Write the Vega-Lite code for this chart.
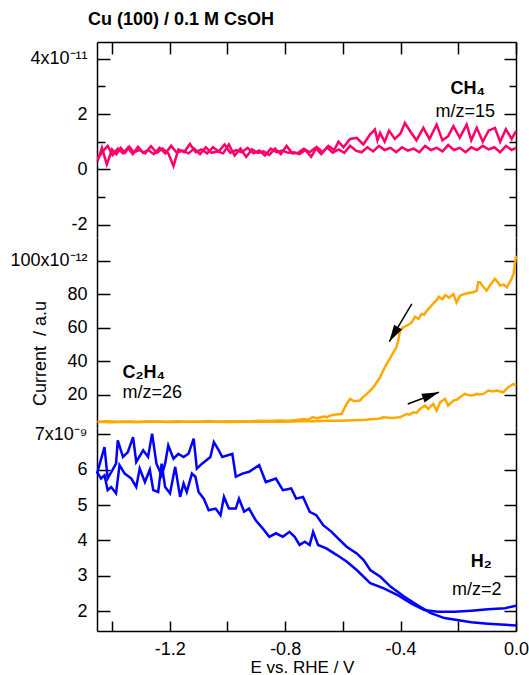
{
  "$schema": "https://vega.github.io/schema/vega-lite/v6.json",
  "padding": {"left": 9, "top": 11, "right": 0, "bottom": 0},
  "title": {"text": "Cu (100) / 0.1 M CsOH", "anchor": "start", "frame": "group", "fontSize": 18, "fontWeight": "bold", "font": "Liberation Sans", "color": "black", "offset": -2, "dx": -9, "baseline": "alphabetic"},
  "spacing": 0,
  "bounds": "flush",
  "datasets": {
    "ch4": [
      {"sweep":"a","E":-1.450,"I":0.30},{"sweep":"a","E":-1.435,"I":0.78},{"sweep":"a","E":-1.418,"I":0.18},{"sweep":"a","E":-1.400,"I":0.72},{"sweep":"a","E":-1.385,"I":0.55},{"sweep":"a","E":-1.370,"I":0.78},{"sweep":"a","E":-1.355,"I":0.60},{"sweep":"a","E":-1.340,"I":0.82},{"sweep":"a","E":-1.325,"I":0.62},{"sweep":"a","E":-1.305,"I":0.70},{"sweep":"a","E":-1.285,"I":0.58},{"sweep":"a","E":-1.265,"I":0.84},{"sweep":"a","E":-1.245,"I":0.60},{"sweep":"a","E":-1.225,"I":0.75},{"sweep":"a","E":-1.205,"I":0.58},{"sweep":"a","E":-1.187,"I":0.12},{"sweep":"a","E":-1.170,"I":0.72},{"sweep":"a","E":-1.150,"I":0.62},{"sweep":"a","E":-1.130,"I":0.92},{"sweep":"a","E":-1.110,"I":0.62},{"sweep":"a","E":-1.090,"I":0.72},{"sweep":"a","E":-1.070,"I":0.58},{"sweep":"a","E":-1.050,"I":0.80},{"sweep":"a","E":-1.030,"I":0.65},{"sweep":"a","E":-1.010,"I":0.90},{"sweep":"a","E":-0.990,"I":0.60},{"sweep":"a","E":-0.970,"I":0.70},{"sweep":"a","E":-0.950,"I":0.62},{"sweep":"a","E":-0.930,"I":0.78},{"sweep":"a","E":-0.910,"I":0.58},{"sweep":"a","E":-0.890,"I":0.68},{"sweep":"a","E":-0.870,"I":0.50},{"sweep":"a","E":-0.850,"I":0.75},{"sweep":"a","E":-0.830,"I":0.62},{"sweep":"a","E":-0.810,"I":0.68},{"sweep":"a","E":-0.790,"I":0.60},{"sweep":"a","E":-0.770,"I":0.62},{"sweep":"a","E":-0.750,"I":0.55},{"sweep":"a","E":-0.730,"I":0.70},{"sweep":"a","E":-0.710,"I":0.45},{"sweep":"a","E":-0.690,"I":0.80},{"sweep":"a","E":-0.670,"I":0.62},{"sweep":"a","E":-0.650,"I":0.85},{"sweep":"a","E":-0.630,"I":0.70},{"sweep":"a","E":-0.615,"I":1.00},{"sweep":"a","E":-0.598,"I":0.80},{"sweep":"a","E":-0.575,"I":1.10},{"sweep":"a","E":-0.552,"I":1.14},{"sweep":"a","E":-0.529,"I":0.90},{"sweep":"a","E":-0.506,"I":1.26},{"sweep":"a","E":-0.489,"I":1.44},{"sweep":"a","E":-0.480,"I":1.05},{"sweep":"a","E":-0.471,"I":1.32},{"sweep":"a","E":-0.455,"I":1.00},{"sweep":"a","E":-0.440,"I":1.40},{"sweep":"a","E":-0.420,"I":1.10},{"sweep":"a","E":-0.400,"I":1.30},{"sweep":"a","E":-0.385,"I":1.68},{"sweep":"a","E":-0.365,"I":1.35},{"sweep":"a","E":-0.345,"I":1.05},{"sweep":"a","E":-0.321,"I":1.50},{"sweep":"a","E":-0.300,"I":1.10},{"sweep":"a","E":-0.275,"I":1.62},{"sweep":"a","E":-0.255,"I":1.05},{"sweep":"a","E":-0.235,"I":1.20},{"sweep":"a","E":-0.217,"I":1.56},{"sweep":"a","E":-0.195,"I":1.15},{"sweep":"a","E":-0.171,"I":1.62},{"sweep":"a","E":-0.155,"I":1.05},{"sweep":"a","E":-0.136,"I":1.50},{"sweep":"a","E":-0.115,"I":1.00},{"sweep":"a","E":-0.095,"I":1.40},{"sweep":"a","E":-0.073,"I":1.50},{"sweep":"a","E":-0.055,"I":1.00},{"sweep":"a","E":-0.035,"I":1.45},{"sweep":"a","E":-0.015,"I":1.10},{"sweep":"a","E":0.000,"I":1.38},
      {"sweep":"b","E":-1.450,"I":0.40},{"sweep":"b","E":-1.432,"I":0.65},{"sweep":"b","E":-1.415,"I":0.85},{"sweep":"b","E":-1.398,"I":0.52},{"sweep":"b","E":-1.380,"I":0.75},{"sweep":"b","E":-1.362,"I":0.58},{"sweep":"b","E":-1.345,"I":0.78},{"sweep":"b","E":-1.328,"I":0.55},{"sweep":"b","E":-1.310,"I":0.82},{"sweep":"b","E":-1.292,"I":0.60},{"sweep":"b","E":-1.275,"I":0.70},{"sweep":"b","E":-1.255,"I":0.55},{"sweep":"b","E":-1.235,"I":0.78},{"sweep":"b","E":-1.215,"I":0.58},{"sweep":"b","E":-1.195,"I":0.85},{"sweep":"b","E":-1.175,"I":0.60},{"sweep":"b","E":-1.155,"I":0.68},{"sweep":"b","E":-1.135,"I":0.58},{"sweep":"b","E":-1.115,"I":0.75},{"sweep":"b","E":-1.095,"I":0.55},{"sweep":"b","E":-1.075,"I":0.80},{"sweep":"b","E":-1.055,"I":0.60},{"sweep":"b","E":-1.035,"I":0.65},{"sweep":"b","E":-1.015,"I":0.58},{"sweep":"b","E":-0.995,"I":0.90},{"sweep":"b","E":-0.975,"I":0.50},{"sweep":"b","E":-0.955,"I":0.75},{"sweep":"b","E":-0.935,"I":0.45},{"sweep":"b","E":-0.915,"I":0.72},{"sweep":"b","E":-0.895,"I":0.60},{"sweep":"b","E":-0.875,"I":0.65},{"sweep":"b","E":-0.855,"I":0.52},{"sweep":"b","E":-0.835,"I":0.75},{"sweep":"b","E":-0.815,"I":0.55},{"sweep":"b","E":-0.795,"I":0.85},{"sweep":"b","E":-0.775,"I":0.58},{"sweep":"b","E":-0.755,"I":0.60},{"sweep":"b","E":-0.735,"I":0.75},{"sweep":"b","E":-0.715,"I":0.62},{"sweep":"b","E":-0.695,"I":0.78},{"sweep":"b","E":-0.675,"I":0.55},{"sweep":"b","E":-0.655,"I":0.80},{"sweep":"b","E":-0.635,"I":0.60},{"sweep":"b","E":-0.615,"I":0.72},{"sweep":"b","E":-0.595,"I":0.60},{"sweep":"b","E":-0.575,"I":0.85},{"sweep":"b","E":-0.555,"I":0.68},{"sweep":"b","E":-0.535,"I":0.62},{"sweep":"b","E":-0.515,"I":0.80},{"sweep":"b","E":-0.495,"I":0.65},{"sweep":"b","E":-0.475,"I":0.85},{"sweep":"b","E":-0.455,"I":0.70},{"sweep":"b","E":-0.435,"I":0.78},{"sweep":"b","E":-0.415,"I":0.62},{"sweep":"b","E":-0.395,"I":0.80},{"sweep":"b","E":-0.375,"I":0.68},{"sweep":"b","E":-0.355,"I":0.75},{"sweep":"b","E":-0.335,"I":0.62},{"sweep":"b","E":-0.315,"I":0.85},{"sweep":"b","E":-0.295,"I":0.70},{"sweep":"b","E":-0.275,"I":0.78},{"sweep":"b","E":-0.255,"I":0.65},{"sweep":"b","E":-0.235,"I":0.88},{"sweep":"b","E":-0.215,"I":0.70},{"sweep":"b","E":-0.195,"I":0.78},{"sweep":"b","E":-0.175,"I":0.62},{"sweep":"b","E":-0.155,"I":0.80},{"sweep":"b","E":-0.135,"I":0.70},{"sweep":"b","E":-0.115,"I":0.85},{"sweep":"b","E":-0.095,"I":0.72},{"sweep":"b","E":-0.075,"I":0.80},{"sweep":"b","E":-0.055,"I":0.62},{"sweep":"b","E":-0.035,"I":0.85},{"sweep":"b","E":-0.015,"I":0.70},{"sweep":"b","E":0.000,"I":0.78}
    ],
    "c2h4": [
      {"sweep":"cathodic","E":-1.450,"I":3.6},{"sweep":"cathodic","E":-1.415,"I":4.0},{"sweep":"cathodic","E":-1.380,"I":3.7},{"sweep":"cathodic","E":-1.345,"I":3.9},{"sweep":"cathodic","E":-1.310,"I":3.6},{"sweep":"cathodic","E":-1.275,"I":4.0},{"sweep":"cathodic","E":-1.240,"I":3.8},{"sweep":"cathodic","E":-1.205,"I":3.7},{"sweep":"cathodic","E":-1.170,"I":4.1},{"sweep":"cathodic","E":-1.135,"I":3.8},{"sweep":"cathodic","E":-1.100,"I":3.9},{"sweep":"cathodic","E":-1.065,"I":4.2},{"sweep":"cathodic","E":-1.030,"I":3.8},{"sweep":"cathodic","E":-0.995,"I":4.0},{"sweep":"cathodic","E":-0.960,"I":4.1},{"sweep":"cathodic","E":-0.925,"I":4.0},{"sweep":"cathodic","E":-0.890,"I":4.3},{"sweep":"cathodic","E":-0.855,"I":4.2},{"sweep":"cathodic","E":-0.820,"I":4.5},{"sweep":"cathodic","E":-0.790,"I":4.4},{"sweep":"cathodic","E":-0.760,"I":4.8},{"sweep":"cathodic","E":-0.735,"I":5.4},{"sweep":"cathodic","E":-0.720,"I":5.0},{"sweep":"cathodic","E":-0.705,"I":6.5},{"sweep":"cathodic","E":-0.690,"I":5.8},{"sweep":"cathodic","E":-0.680,"I":6.3},{"sweep":"cathodic","E":-0.665,"I":6.8},{"sweep":"cathodic","E":-0.655,"I":6.4},{"sweep":"cathodic","E":-0.645,"I":7.4},{"sweep":"cathodic","E":-0.630,"I":7.9},{"sweep":"cathodic","E":-0.615,"I":8.2},{"sweep":"cathodic","E":-0.604,"I":8.4},{"sweep":"cathodic","E":-0.593,"I":12.4},{"sweep":"cathodic","E":-0.583,"I":15.5},{"sweep":"cathodic","E":-0.575,"I":17.4},{"sweep":"cathodic","E":-0.560,"I":16.0},{"sweep":"cathodic","E":-0.541,"I":16.4},{"sweep":"cathodic","E":-0.530,"I":18.5},{"sweep":"cathodic","E":-0.517,"I":20.4},{"sweep":"cathodic","E":-0.505,"I":22.5},{"sweep":"cathodic","E":-0.494,"I":24.4},{"sweep":"cathodic","E":-0.482,"I":27.5},{"sweep":"cathodic","E":-0.471,"I":30.3},{"sweep":"cathodic","E":-0.460,"I":34.5},{"sweep":"cathodic","E":-0.448,"I":38.4},{"sweep":"cathodic","E":-0.437,"I":41.5},{"sweep":"cathodic","E":-0.425,"I":45.3},{"sweep":"cathodic","E":-0.415,"I":48.0},{"sweep":"cathodic","E":-0.408,"I":52.3},{"sweep":"cathodic","E":-0.402,"I":58.3},{"sweep":"cathodic","E":-0.390,"I":60.3},{"sweep":"cathodic","E":-0.375,"I":61.5},{"sweep":"cathodic","E":-0.361,"I":63.3},{"sweep":"cathodic","E":-0.350,"I":66.5},{"sweep":"cathodic","E":-0.338,"I":65.3},{"sweep":"cathodic","E":-0.327,"I":68.3},{"sweep":"cathodic","E":-0.318,"I":67.8},{"sweep":"cathodic","E":-0.309,"I":70.3},{"sweep":"cathodic","E":-0.298,"I":72.2},{"sweep":"cathodic","E":-0.287,"I":74.5},{"sweep":"cathodic","E":-0.275,"I":76.5},{"sweep":"cathodic","E":-0.268,"I":78.5},{"sweep":"cathodic","E":-0.255,"I":77.0},{"sweep":"cathodic","E":-0.245,"I":79.5},{"sweep":"cathodic","E":-0.232,"I":78.0},{"sweep":"cathodic","E":-0.217,"I":80.2},{"sweep":"cathodic","E":-0.206,"I":75.2},{"sweep":"cathodic","E":-0.194,"I":79.2},{"sweep":"cathodic","E":-0.185,"I":79.8},{"sweep":"cathodic","E":-0.177,"I":80.2},{"sweep":"cathodic","E":-0.165,"I":80.8},{"sweep":"cathodic","E":-0.148,"I":81.2},{"sweep":"cathodic","E":-0.136,"I":82.2},{"sweep":"cathodic","E":-0.131,"I":87.2},{"sweep":"cathodic","E":-0.125,"I":87.2},{"sweep":"cathodic","E":-0.113,"I":84.5},{"sweep":"cathodic","E":-0.102,"I":82.2},{"sweep":"cathodic","E":-0.090,"I":85.5},{"sweep":"cathodic","E":-0.073,"I":89.2},{"sweep":"cathodic","E":-0.064,"I":87.5},{"sweep":"cathodic","E":-0.055,"I":85.2},{"sweep":"cathodic","E":-0.043,"I":85.8},{"sweep":"cathodic","E":-0.032,"I":84.2},{"sweep":"cathodic","E":-0.015,"I":89.4},{"sweep":"cathodic","E":-0.008,"I":92.5},{"sweep":"cathodic","E":0.000,"I":103.2},
      {"sweep":"anodic","E":-1.450,"I":3.8},{"sweep":"anodic","E":-1.400,"I":3.5},{"sweep":"anodic","E":-1.350,"I":3.8},{"sweep":"anodic","E":-1.300,"I":3.6},{"sweep":"anodic","E":-1.250,"I":3.9},{"sweep":"anodic","E":-1.200,"I":3.6},{"sweep":"anodic","E":-1.150,"I":3.8},{"sweep":"anodic","E":-1.100,"I":3.7},{"sweep":"anodic","E":-1.050,"I":3.9},{"sweep":"anodic","E":-1.000,"I":3.6},{"sweep":"anodic","E":-0.950,"I":3.8},{"sweep":"anodic","E":-0.900,"I":3.7},{"sweep":"anodic","E":-0.850,"I":3.9},{"sweep":"anodic","E":-0.800,"I":3.8},{"sweep":"anodic","E":-0.750,"I":4.0},{"sweep":"anodic","E":-0.700,"I":4.1},{"sweep":"anodic","E":-0.650,"I":4.3},{"sweep":"anodic","E":-0.610,"I":4.4},{"sweep":"anodic","E":-0.560,"I":4.7},{"sweep":"anodic","E":-0.520,"I":5.0},{"sweep":"anodic","E":-0.494,"I":5.4},{"sweep":"anodic","E":-0.475,"I":5.6},{"sweep":"anodic","E":-0.460,"I":6.4},{"sweep":"anodic","E":-0.430,"I":6.0},{"sweep":"anodic","E":-0.402,"I":6.4},{"sweep":"anodic","E":-0.379,"I":8.4},{"sweep":"anodic","E":-0.368,"I":8.0},{"sweep":"anodic","E":-0.356,"I":9.4},{"sweep":"anodic","E":-0.345,"I":9.0},{"sweep":"anodic","E":-0.333,"I":11.4},{"sweep":"anodic","E":-0.315,"I":13.4},{"sweep":"anodic","E":-0.304,"I":11.4},{"sweep":"anodic","E":-0.287,"I":14.4},{"sweep":"anodic","E":-0.275,"I":10.4},{"sweep":"anodic","E":-0.263,"I":15.4},{"sweep":"anodic","E":-0.246,"I":17.4},{"sweep":"anodic","E":-0.235,"I":13.4},{"sweep":"anodic","E":-0.217,"I":16.4},{"sweep":"anodic","E":-0.205,"I":17.0},{"sweep":"anodic","E":-0.194,"I":18.4},{"sweep":"anodic","E":-0.177,"I":20.4},{"sweep":"anodic","E":-0.159,"I":19.4},{"sweep":"anodic","E":-0.145,"I":19.8},{"sweep":"anodic","E":-0.136,"I":20.4},{"sweep":"anodic","E":-0.125,"I":20.0},{"sweep":"anodic","E":-0.113,"I":20.4},{"sweep":"anodic","E":-0.096,"I":22.4},{"sweep":"anodic","E":-0.080,"I":21.8},{"sweep":"anodic","E":-0.067,"I":22.4},{"sweep":"anodic","E":-0.044,"I":21.4},{"sweep":"anodic","E":-0.027,"I":24.4},{"sweep":"anodic","E":-0.009,"I":26.4},{"sweep":"anodic","E":0.000,"I":25.4}
    ],
    "h2": [
      {"sweep":"U","E":-1.452,"I":5.89},{"sweep":"U","E":-1.426,"I":6.64},{"sweep":"U","E":-1.415,"I":5.75},{"sweep":"U","E":-1.386,"I":6.17},{"sweep":"U","E":-1.380,"I":6.83},{"sweep":"U","E":-1.362,"I":6.36},{"sweep":"U","E":-1.345,"I":6.50},{"sweep":"U","E":-1.327,"I":6.92},{"sweep":"U","E":-1.316,"I":6.22},{"sweep":"U","E":-1.292,"I":6.55},{"sweep":"U","E":-1.275,"I":6.36},{"sweep":"U","E":-1.261,"I":7.02},{"sweep":"U","E":-1.246,"I":6.17},{"sweep":"U","E":-1.228,"I":5.84},{"sweep":"U","E":-1.216,"I":6.17},{"sweep":"U","E":-1.205,"I":6.69},{"sweep":"U","E":-1.187,"I":6.31},{"sweep":"U","E":-1.170,"I":6.45},{"sweep":"U","E":-1.152,"I":6.36},{"sweep":"U","E":-1.135,"I":6.45},{"sweep":"U","E":-1.117,"I":6.88},{"sweep":"U","E":-1.106,"I":6.03},{"sweep":"U","E":-1.088,"I":6.17},{"sweep":"U","E":-1.059,"I":6.36},{"sweep":"U","E":-1.047,"I":6.78},{"sweep":"U","E":-1.030,"I":6.55},{"sweep":"U","E":-1.018,"I":6.36},{"sweep":"U","E":-0.983,"I":6.45},{"sweep":"U","E":-0.971,"I":5.80},{"sweep":"U","E":-0.948,"I":5.89},{"sweep":"U","E":-0.925,"I":5.94},{"sweep":"U","E":-0.890,"I":6.13},{"sweep":"U","E":-0.867,"I":5.65},{"sweep":"U","E":-0.832,"I":5.75},{"sweep":"U","E":-0.808,"I":5.42},{"sweep":"U","E":-0.779,"I":5.47},{"sweep":"U","E":-0.762,"I":5.18},{"sweep":"U","E":-0.738,"I":5.23},{"sweep":"U","E":-0.715,"I":4.81},{"sweep":"U","E":-0.692,"I":4.71},{"sweep":"U","E":-0.668,"I":4.43},{"sweep":"U","E":-0.639,"I":4.24},{"sweep":"U","E":-0.622,"I":4.10},{"sweep":"U","E":-0.587,"I":3.82},{"sweep":"U","E":-0.552,"I":3.63},{"sweep":"U","E":-0.528,"I":3.44},{"sweep":"U","E":-0.505,"I":3.16},{"sweep":"U","E":-0.470,"I":2.97},{"sweep":"U","E":-0.435,"I":2.69},{"sweep":"U","E":-0.388,"I":2.41},{"sweep":"U","E":-0.342,"I":2.17},{"sweep":"U","E":-0.295,"I":1.94},{"sweep":"U","E":-0.248,"I":1.80},{"sweep":"U","E":-0.155,"I":1.68},{"sweep":"U","E":-0.097,"I":1.64},{"sweep":"U","E":-0.038,"I":1.61},{"sweep":"U","E":0.000,"I":1.59},
      {"sweep":"L","E":-1.452,"I":5.94},{"sweep":"L","E":-1.438,"I":5.75},{"sweep":"L","E":-1.426,"I":5.84},{"sweep":"L","E":-1.415,"I":5.42},{"sweep":"L","E":-1.403,"I":5.51},{"sweep":"L","E":-1.386,"I":5.33},{"sweep":"L","E":-1.374,"I":6.13},{"sweep":"L","E":-1.356,"I":5.89},{"sweep":"L","E":-1.333,"I":5.75},{"sweep":"L","E":-1.316,"I":5.51},{"sweep":"L","E":-1.304,"I":6.03},{"sweep":"L","E":-1.286,"I":5.65},{"sweep":"L","E":-1.269,"I":6.00},{"sweep":"L","E":-1.257,"I":5.42},{"sweep":"L","E":-1.240,"I":5.37},{"sweep":"L","E":-1.228,"I":6.17},{"sweep":"L","E":-1.216,"I":5.51},{"sweep":"L","E":-1.199,"I":5.33},{"sweep":"L","E":-1.181,"I":6.08},{"sweep":"L","E":-1.164,"I":5.23},{"sweep":"L","E":-1.152,"I":5.61},{"sweep":"L","E":-1.141,"I":5.37},{"sweep":"L","E":-1.123,"I":5.89},{"sweep":"L","E":-1.111,"I":5.80},{"sweep":"L","E":-1.100,"I":5.37},{"sweep":"L","E":-1.082,"I":5.18},{"sweep":"L","E":-1.065,"I":4.85},{"sweep":"L","E":-1.041,"I":4.90},{"sweep":"L","E":-1.024,"I":4.71},{"sweep":"L","E":-1.012,"I":5.23},{"sweep":"L","E":-0.995,"I":4.90},{"sweep":"L","E":-0.971,"I":4.90},{"sweep":"L","E":-0.960,"I":5.18},{"sweep":"L","E":-0.942,"I":4.81},{"sweep":"L","E":-0.925,"I":4.90},{"sweep":"L","E":-0.902,"I":4.57},{"sweep":"L","E":-0.878,"I":4.34},{"sweep":"L","E":-0.855,"I":4.10},{"sweep":"L","E":-0.832,"I":4.20},{"sweep":"L","E":-0.808,"I":4.10},{"sweep":"L","E":-0.785,"I":4.24},{"sweep":"L","E":-0.767,"I":4.10},{"sweep":"L","E":-0.750,"I":3.87},{"sweep":"L","E":-0.732,"I":3.96},{"sweep":"L","E":-0.715,"I":3.87},{"sweep":"L","E":-0.703,"I":4.24},{"sweep":"L","E":-0.686,"I":3.87},{"sweep":"L","E":-0.657,"I":3.77},{"sweep":"L","E":-0.622,"I":3.59},{"sweep":"L","E":-0.587,"I":3.40},{"sweep":"L","E":-0.552,"I":3.16},{"sweep":"L","E":-0.505,"I":2.79},{"sweep":"L","E":-0.458,"I":2.64},{"sweep":"L","E":-0.412,"I":2.46},{"sweep":"L","E":-0.365,"I":2.22},{"sweep":"L","E":-0.318,"I":2.03},{"sweep":"L","E":-0.272,"I":1.98},{"sweep":"L","E":-0.213,"I":1.98},{"sweep":"L","E":-0.155,"I":2.01},{"sweep":"L","E":-0.097,"I":2.05},{"sweep":"L","E":-0.038,"I":2.08},{"sweep":"L","E":0.000,"I":2.15}
    ],
    "labels": [
      {"id":"CH4","text":"CH₄","E":-0.107,"I":2.89},
      {"id":"CH4mz","text":"m/z=15","E":-0.073,"I":2.07},
      {"id":"C2H4","text":"C₂H₄","E":-1.364,"I":33.2},
      {"id":"C2H4mz","text":"m/z=26","E":-1.364,"I":21.2},
      {"id":"H2","text":"H₂","E":-0.084,"I":3.39},
      {"id":"H2mz","text":"m/z=2","E":-0.050,"I":2.59}
    ],
    "arrows": [
      {"arrow":1,"E":-0.361,"I":74.3,"E2":-0.439,"I2":51.7},
      {"arrow":2,"E":-0.375,"I":14.4,"E2":-0.267,"I2":21.4}
    ]
  },
  "vconcat": [
    {
      "width": 419, "height": 195,
      "layer": [
        {
          "data": {"name": "ch4"},
          "mark": {"type": "line", "color": "#FF0066", "strokeWidth": 2.5},
          "encoding": {
            "x": {"field": "E", "type": "quantitative", "scale": {"domain": [-1.452, 0], "nice": false, "zero": false},
                  "axis": {"orient": "top", "values": [-1.4, -1.2, -1.0, -0.8, -0.6, -0.4, -0.2, 0], "labels": false, "tickSize": -12, "title": null, "domain": true}},
            "y": {"field": "I", "type": "quantitative", "scale": {"domain": [-2.44, 4.6], "nice": false, "zero": false},
                  "axis": {"orient": "left", "values": [-2, 0, 2, 4], "tickSize": -13, "labelPadding": 23, "title": null,
                           "labelExpr": "datum.value == 4 ? '4x10⁻¹¹' : (datum.value < 0 ? '-' + abs(datum.value) : '' + datum.value)"}},
            "detail": {"field": "sweep", "type": "nominal"}
          }
        },
        {
          "data": {"name": "labels"},
          "transform": [{"filter": "datum.id == 'CH4'"}],
          "mark": {"type": "text", "align": "right", "baseline": "middle", "fontWeight": "bold", "fontSize": 18},
          "encoding": {
            "x": {"field": "E", "type": "quantitative", "scale": {"domain": [-1.452, 0], "nice": false, "zero": false}, "axis": null},
            "y": {"field": "I", "type": "quantitative", "scale": {"domain": [-2.44, 4.6], "nice": false, "zero": false},
                  "axis": {"orient": "right", "values": [-2, 0, 2, 4], "labels": false, "tickSize": -12, "title": null, "domain": true}},
            "text": {"field": "text"}
          }
        },
        {
          "data": {"name": "labels"},
          "transform": [{"filter": "datum.id == 'CH4mz'"}],
          "mark": {"type": "text", "align": "right", "baseline": "middle", "fontSize": 18},
          "encoding": {
            "x": {"field": "E", "type": "quantitative", "scale": {"domain": [-1.452, 0], "nice": false, "zero": false}, "axis": null},
            "y": {"field": "I", "type": "quantitative", "scale": {"domain": [-2.44, 4.6], "nice": false, "zero": false},
                  "axis": {"orient": "left", "values": [-1, 1, 3], "labels": false, "tickSize": -8, "title": null, "domain": false}},
            "text": {"field": "text"}
          }
        },
        {
          "data": {"name": "labels"},
          "transform": [{"filter": "datum.id == 'CH4mz'"}],
          "mark": {"type": "point", "opacity": 0},
          "encoding": {
            "x": {"field": "E", "type": "quantitative", "scale": {"domain": [-1.452, 0], "nice": false, "zero": false}, "axis": null},
            "y": {"field": "I", "type": "quantitative", "scale": {"domain": [-2.44, 4.6], "nice": false, "zero": false},
                  "axis": {"orient": "right", "values": [-1, 1, 3], "labels": false, "tickSize": -7, "title": null, "domain": false}}
          }
        }
      ],
      "resolve": {"axis": {"y": "independent", "x": "independent"}}
    },
    {
      "width": 419, "height": 191,
      "layer": [
        {
          "data": {"name": "c2h4"},
          "mark": {"type": "line", "color": "#FFA800", "strokeWidth": 2.5},
          "encoding": {
            "x": {"field": "E", "type": "quantitative", "scale": {"domain": [-1.452, 0], "nice": false, "zero": false}, "axis": null},
            "y": {"field": "I", "type": "quantitative", "scale": {"domain": [0, 114.3], "nice": false, "zero": false},
                  "axis": {"orient": "left", "values": [20, 40, 60, 80, 100], "tickSize": -13, "labelPadding": 23,
                           "labelExpr": "datum.value == 100 ? '100x10⁻¹²' : '' + datum.value",
                           "title": "Current\u00a0 / a.u", "titleFontSize": 18, "titleFontWeight": "normal", "titleX": -57, "titleY": 116, "titleBaseline": "middle", "titleAngle": -90}},
            "detail": {"field": "sweep", "type": "nominal"}
          }
        },
        {
          "data": {"name": "labels"},
          "transform": [{"filter": "datum.id == 'C2H4'"}],
          "mark": {"type": "text", "align": "left", "baseline": "middle", "fontWeight": "bold", "fontSize": 18},
          "encoding": {
            "x": {"field": "E", "type": "quantitative", "scale": {"domain": [-1.452, 0], "nice": false, "zero": false}, "axis": null},
            "y": {"field": "I", "type": "quantitative", "scale": {"domain": [0, 114.3], "nice": false, "zero": false},
                  "axis": {"orient": "right", "values": [20, 40, 60, 80, 100], "labels": false, "tickSize": -12, "title": null, "domain": true}},
            "text": {"field": "text"}
          }
        },
        {
          "data": {"name": "labels"},
          "transform": [{"filter": "datum.id == 'C2H4mz'"}],
          "mark": {"type": "text", "align": "left", "baseline": "middle", "fontSize": 18},
          "encoding": {
            "x": {"field": "E", "type": "quantitative", "scale": {"domain": [-1.452, 0], "nice": false, "zero": false}, "axis": null},
            "y": {"field": "I", "type": "quantitative", "scale": {"domain": [0, 114.3], "nice": false, "zero": false}, "axis": null},
            "text": {"field": "text"}
          }
        },
        {
          "data": {"name": "arrows"},
          "mark": {"type": "rule", "color": "black", "strokeWidth": 1.5},
          "encoding": {
            "x": {"field": "E", "type": "quantitative", "scale": {"domain": [-1.452, 0], "nice": false, "zero": false}, "axis": null},
            "y": {"field": "I", "type": "quantitative", "scale": {"domain": [0, 114.3], "nice": false, "zero": false}, "axis": null},
            "x2": {"field": "E2"},
            "y2": {"field": "I2"}
          }
        },
        {
          "data": {"name": "arrows"},
          "transform": [{"filter": "datum.arrow == 1"}],
          "mark": {"type": "point", "shape": "M0,0L-0.55,2L0.55,2Z", "filled": true, "color": "black", "opacity": 1, "size": 289, "angle": 211, "strokeWidth": 0},
          "encoding": {
            "x": {"field": "E2", "type": "quantitative", "scale": {"domain": [-1.452, 0], "nice": false, "zero": false}, "axis": null},
            "y": {"field": "I2", "type": "quantitative", "scale": {"domain": [0, 114.3], "nice": false, "zero": false}, "axis": null}
          }
        },
        {
          "data": {"name": "arrows"},
          "transform": [{"filter": "datum.arrow == 2"}],
          "mark": {"type": "point", "shape": "M0,0L-0.55,2L0.55,2Z", "filled": true, "color": "black", "opacity": 1, "size": 289, "angle": 70, "strokeWidth": 0},
          "encoding": {
            "x": {"field": "E2", "type": "quantitative", "scale": {"domain": [-1.452, 0], "nice": false, "zero": false}, "axis": null},
            "y": {"field": "I2", "type": "quantitative", "scale": {"domain": [0, 114.3], "nice": false, "zero": false}, "axis": null}
          }
        }
      ],
      "resolve": {"axis": {"y": "independent", "x": "independent"}}
    },
    {
      "width": 419, "height": 203,
      "layer": [
        {
          "data": {"name": "h2"},
          "mark": {"type": "line", "color": "#0000FF", "strokeWidth": 2.5},
          "encoding": {
            "x": {"field": "E", "type": "quantitative", "scale": {"domain": [-1.452, 0], "nice": false, "zero": false},
                  "axis": {"orient": "bottom", "values": [-1.4, -1.2, -1.0, -0.8, -0.6, -0.4, -0.2, 0], "tickSize": -10, "labelPadding": 19,
                           "labelExpr": "datum.value == 0 ? '0.0' : (round(datum.value * 10) % 4 == 0 ? '-' + format(abs(datum.value), '.1f') : '')",
                           "title": "E vs. RHE / V", "titleFontSize": 17, "titleFontWeight": "normal", "titleX": 205, "titleY": 41, "titleBaseline": "alphabetic"}},
            "y": {"field": "I", "type": "quantitative", "scale": {"domain": [1.434, 7.18], "nice": false, "zero": false},
                  "axis": {"orient": "left", "values": [2, 3, 4, 5, 6, 7], "tickSize": -13, "labelPadding": 23, "title": null,
                           "labelExpr": "datum.value == 7 ? '7x10⁻⁹' : '' + datum.value"}},
            "detail": {"field": "sweep", "type": "nominal"}
          }
        },
        {
          "data": {"name": "labels"},
          "transform": [{"filter": "datum.id == 'H2'"}],
          "mark": {"type": "text", "align": "right", "baseline": "middle", "fontWeight": "bold", "fontSize": 18},
          "encoding": {
            "x": {"field": "E", "type": "quantitative", "scale": {"domain": [-1.452, 0], "nice": false, "zero": false}, "axis": null},
            "y": {"field": "I", "type": "quantitative", "scale": {"domain": [1.434, 7.18], "nice": false, "zero": false},
                  "axis": {"orient": "right", "values": [2, 3, 4, 5, 6, 7], "labels": false, "tickSize": -12, "title": null, "domain": true}},
            "text": {"field": "text"}
          }
        },
        {
          "data": {"name": "labels"},
          "transform": [{"filter": "datum.id == 'H2mz'"}],
          "mark": {"type": "text", "align": "right", "baseline": "middle", "fontSize": 18},
          "encoding": {
            "x": {"field": "E", "type": "quantitative", "scale": {"domain": [-1.452, 0], "nice": false, "zero": false}, "axis": null},
            "y": {"field": "I", "type": "quantitative", "scale": {"domain": [1.434, 7.18], "nice": false, "zero": false}, "axis": null},
            "text": {"field": "text"}
          }
        }
      ],
      "resolve": {"axis": {"y": "independent", "x": "independent"}}
    }
  ],
  "config": {
    "font": "Liberation Sans",
    "view": {"stroke": null},
    "title": {"fontSize": 18, "font": "Liberation Sans"},
    "axis": {"domainColor": "black", "domainWidth": 1.5, "tickColor": "black", "tickWidth": 1.5, "labelColor": "black", "labelFontSize": 18, "labelFont": "Liberation Sans", "grid": false, "titleColor": "black", "titleFont": "Liberation Sans", "titleFontSize": 18, "labelOverlap": false, "labelBound": false, "labelFlush": false},
    "text": {"font": "Liberation Sans", "fontSize": 18, "color": "black"}
  }
}
